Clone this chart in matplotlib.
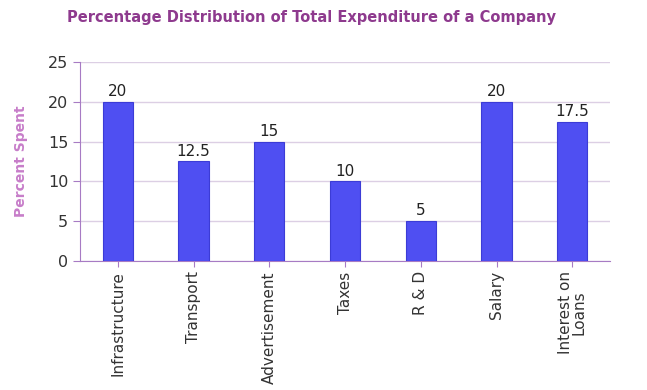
import numpy as np
import matplotlib.pyplot as plt

# datos del gráfico
categorias = ['Infrastructure', 'Transport', 'Advertisement', 'Taxes', 'R & D', 'Salary', 'Interest on\nLoans']
porcentajes = [20, 12.5, 15, 10, 5, 20, 17.5]
etiquetas = ['20', '12.5', '15', '10', '5', '20', '17.5']
y_ticks = [0, 5, 10, 15, 20, 25]

morado = '#a77bc4'

fig = plt.figure(figsize=(6.47, 3.9), dpi=100)
ax = fig.add_axes([0.1236, 0.331, 0.8194, 0.51])

x = np.arange(len(categorias))
barras = ax.bar(x, porcentajes, width=0.4, color='#4f4ff2', edgecolor='#3c3cd6', linewidth=0.8, zorder=3)

for b, txt in zip(barras, etiquetas):
    ax.annotate(txt, (b.get_x() + b.get_width() / 2, b.get_height()),
                xytext=(0, 2), textcoords='offset points',
                ha='center', va='bottom', fontsize=11, color='#222222')

ax.set_xlim(-0.5, len(categorias) - 0.5)
ax.set_ylim(0, 25)
ax.set_yticks(y_ticks)
ax.set_xticks(x)
ax.set_xticklabels(categorias, rotation=90, fontsize=11, color='#333333', linespacing=0.9)
ax.tick_params(axis='y', labelsize=11.5, colors='#333333', length=5, color=morado)
ax.tick_params(axis='x', length=4, color=morado)

ax.grid(axis='y', color='#dccfe4', linewidth=1, zorder=0)
for lado in ['top', 'right']:
    ax.spines[lado].set_visible(False)
ax.spines['left'].set_color(morado)
ax.spines['bottom'].set_color(morado)

ax.set_ylabel('Percent Spent', fontsize=10, fontweight='bold', color='#c77dc9', labelpad=14)
fig.text(0.481, 0.955, 'Percentage Distribution of Total Expenditure of a Company',
         ha='center', va='center', fontsize=10.5, fontweight='bold', color='#8e3a8e')

plt.savefig('out.png', dpi=100)
